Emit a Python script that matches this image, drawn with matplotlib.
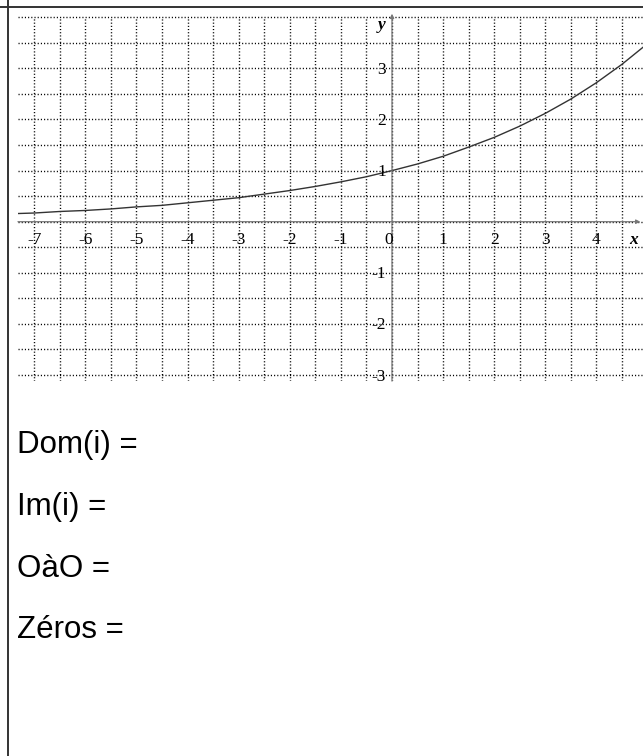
import matplotlib.pyplot as plt
from matplotlib.lines import Line2D

# curve points, read at half-unit steps
curve_x = [-7.32, -7.0, -6.5, -6.0, -5.5, -5.0, -4.5, -4.0, -3.5, -3.0, -2.5, -2.0, -1.5,
           -1.0, -0.5, 0.0, 0.5, 1.0, 1.5, 2.0, 2.5, 3.0, 3.5, 4.0, 4.5, 4.92]
curve_y = [0.16, 0.17, 0.20, 0.22, 0.25, 0.29, 0.32, 0.37, 0.42, 0.47, 0.54, 0.61, 0.69,
           0.78, 0.88, 1.00, 1.13, 1.28, 1.46, 1.65, 1.87, 2.12, 2.40, 2.72, 3.08, 3.42]

x_ticks = [-7, -6, -5, -4, -3, -2, -1, 0, 1, 2, 3, 4]
y_ticks = [3, 2, 1, -1, -2, -3]
grid_x = [-7 + 0.5 * i for i in range(24)]   # -7 .. 4.5
grid_y = [-3 + 0.5 * i for i in range(15)]   # -3 .. 4

answers = ["Dom(i) =", "Im(i) =", "OàO =", "Zéros ="]

W, H = 643, 756
fig = plt.figure(figsize=(W / 100, H / 100), dpi=100)

# pixel position of the origin and size of one unit
ox, oy, unit = 392.0, 221.7, 51.1
xmin, xmax = -7.32, 4.912
ymin, ymax = -3.12, 4.1

left = ox + xmin * unit
right = ox + xmax * unit
top = oy - ymax * unit
bottom = oy - ymin * unit
ax = fig.add_axes([left / W, 1 - bottom / H, (right - left) / W, (bottom - top) / H])
ax.set_xlim(xmin, xmax)
ax.set_ylim(ymin, ymax)
ax.axis("off")

dots = dict(color="#000000", lw=1.0, linestyle=(0, (0.8, 1.5)))
ax.hlines(grid_y, xmin, xmax, **dots)
ax.vlines(grid_x, ymin, 4.0, **dots)

# axes with small arrowheads
axis_col = "#777777"
ax.annotate("", xy=(4.86, 0), xytext=(xmin, 0), annotation_clip=False,
            arrowprops=dict(arrowstyle="-|>", color=axis_col, lw=0.9, mutation_scale=6,
                            shrinkA=0, shrinkB=0))
ax.annotate("", xy=(0, 4.07), xytext=(0, ymin), annotation_clip=False,
            arrowprops=dict(arrowstyle="-|>", color=axis_col, lw=0.9, mutation_scale=6,
                            shrinkA=0, shrinkB=0))

ax.plot(curve_x, curve_y, color="#333333", lw=1.0, solid_joinstyle="round")

serif = ["Liberation Serif", "DejaVu Serif"]
for v in x_ticks:
    if v == 0:
        ax.text(0.02, -0.36, "0", ha="right", va="center", family=serif, fontsize=12.5)
    else:
        ax.text(v, -0.36, str(v), ha="center", va="center", family=serif, fontsize=12.5)
for v in y_ticks:
    ax.text(-0.12, v - 0.03, str(v), ha="right", va="center", family=serif, fontsize=12.5)

ax.text(-0.2, 3.85, "y", ha="center", va="center", family=serif, fontsize=12.5,
        style="italic", weight="bold")
ax.text(4.72, -0.36, "x", ha="center", va="center", family=serif, fontsize=12.5,
        style="italic", weight="bold")

# answer lines under the graph
baselines = [453.5, 515.5, 577.0, 638.5]
for label, b in zip(answers, baselines):
    fig.text(17 / W, 1 - b / H, label, ha="left", va="baseline",
             family=["Liberation Sans", "DejaVu Sans"], fontsize=22.5, color="black")

# cell border
fig.add_artist(Line2D([0, 1], [1 - 7 / H, 1 - 7 / H], color="#333333", lw=1.4))
fig.add_artist(Line2D([7.5 / W, 7.5 / W], [0, 1], color="#333333", lw=1.4))

fig.savefig("out.png", dpi=100)
